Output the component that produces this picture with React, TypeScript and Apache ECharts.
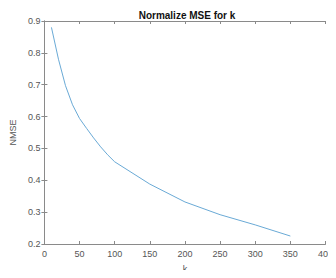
import React, { useEffect, useRef } from "react";
import * as echarts from "echarts";

const kValues = [10, 20, 30, 40, 50, 60, 70, 80, 90, 100, 150, 200, 250, 300, 350];
const nmseValues = [0.88, 0.78, 0.697, 0.637, 0.594, 0.563, 0.533, 0.505, 0.48, 0.458, 0.388, 0.332, 0.292, 0.26, 0.225];
const xTicks = [0, 50, 100, 150, 200, 250, 300, 350, 400];
const yTicks = [0.2, 0.3, 0.4, 0.5, 0.6, 0.7, 0.8, 0.9];

export default function App() {
  const ref = useRef<HTMLDivElement>(null);
  useEffect(() => {
    const chart = echarts.init(ref.current!, null, { renderer: "svg" });
    const font = "'Liberation Sans', Arial, sans-serif";
    const axisColor = "#8a8a8a";
    const labelColor = "#555";
    chart.setOption({
      animation: false,
      backgroundColor: "#fff",
      title: {
        text: "Normalize MSE for k",
        left: 182,
        textAlign: "center",
        top: 5,
        textStyle: { fontSize: 10, fontWeight: "bold", color: "#111", fontFamily: font },
      },
      grid: { left: 35, top: 21, right: 7, bottom: 26, containLabel: false },
      xAxis: [
        {
          type: "value",
          min: xTicks[0],
          max: xTicks[xTicks.length - 1],
          interval: 50,
          name: "k",
          nameLocation: "middle",
          nameGap: 20,
          nameTextStyle: { fontSize: 9, color: labelColor, fontFamily: font },
          axisLine: { show: true, lineStyle: { color: axisColor, width: 1 } },
          axisTick: { show: true, inside: true, length: 3, lineStyle: { color: axisColor } },
          axisLabel: { fontSize: 9, color: labelColor, fontFamily: font, margin: 5 },
          splitLine: { show: false },
        },
        {
          type: "value",
          position: "top",
          min: xTicks[0],
          max: xTicks[xTicks.length - 1],
          interval: 50,
          axisLine: { show: true, lineStyle: { color: axisColor, width: 1 } },
          axisTick: { show: true, inside: true, length: 3, lineStyle: { color: axisColor } },
          axisLabel: { show: false },
          splitLine: { show: false },
        },
      ],
      yAxis: [
        {
          type: "value",
          min: yTicks[0],
          max: yTicks[yTicks.length - 1],
          interval: 0.1,
          name: "NMSE",
          nameLocation: "middle",
          nameGap: 26,
          nameRotate: 90,
          nameTextStyle: { fontSize: 9, color: labelColor, fontFamily: font },
          axisLine: { show: true, lineStyle: { color: axisColor, width: 1 } },
          axisTick: { show: true, inside: true, length: 3, lineStyle: { color: axisColor } },
          axisLabel: {
            fontSize: 9,
            color: labelColor,
            fontFamily: font,
            margin: 4,
            formatter: (v: number) => v.toFixed(1),
          },
          splitLine: { show: false },
        },
        {
          type: "value",
          position: "right",
          min: yTicks[0],
          max: yTicks[yTicks.length - 1],
          interval: 0.1,
          axisLine: { show: true, lineStyle: { color: axisColor, width: 1 } },
          axisTick: { show: true, inside: true, length: 3, lineStyle: { color: axisColor } },
          axisLabel: { show: false },
          splitLine: { show: false },
        },
      ],
      series: [
        {
          type: "line",
          data: kValues.map((k, i) => [k, nmseValues[i]]),
          showSymbol: false,
          smooth: false,
          lineStyle: { color: "#6aaad6", width: 1 },
        },
      ],
    });
    return () => chart.dispose();
  }, []);
  return (
    <div style={{ margin: -8, background: "#fff" }}>
      <div ref={ref} style={{ width: 336, height: 278 }} />
    </div>
  );
}
